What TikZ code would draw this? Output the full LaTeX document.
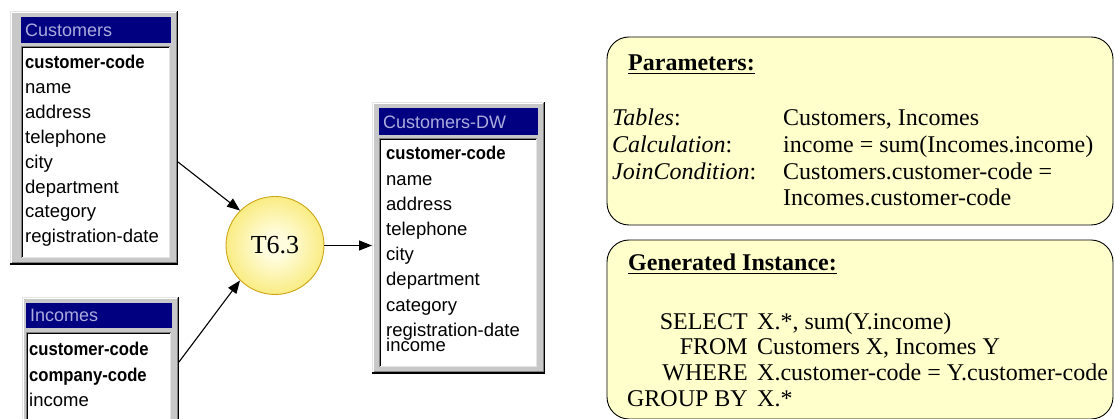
\documentclass[tikz,border=0pt]{standalone}
\usepackage{fontspec}
\setmainfont{Liberation Serif}
\newfontfamily\winfont{Liberation Sans}
\usetikzlibrary{arrows.meta}

\definecolor{winnavy}{RGB}{0,0,128}
\definecolor{wintitle}{RGB}{172,172,222}
\definecolor{winface}{RGB}{200,200,200}
\definecolor{winlight}{RGB}{228,228,228}
\definecolor{winshadow}{RGB}{128,128,128}
\definecolor{notefill}{RGB}{255,255,204}
\definecolor{ballin}{RGB}{255,253,222}
\definecolor{ballout}{RGB}{246,224,70}
\definecolor{balledge}{RGB}{205,165,20}

\pgfdeclareradialshading{sunball}{\pgfpoint{0bp}{0bp}}{%
  color(0bp)=(ballin); color(6bp)=(ballin); color(38bp)=(ballout); color(50bp)=(ballout)}

\tikzset{
  winbody/.style={rectangle, fill=winface, draw=none, inner sep=0pt, outer sep=0pt},
  notebox/.style={rectangle, rounded corners=22pt, draw=black, line width=0.9pt,
    fill=notefill, inner sep=0pt, outer sep=0pt},
  proc/.style={circle, minimum size=98pt, inner sep=0pt, draw=balledge, line width=0.9pt,
    shading=sunball, font=\fontsize{26}{26}\selectfont},
  flow/.style={line width=1.1pt, -{Triangle[length=13pt,width=10pt]}},
  field/.style={anchor=base west, inner sep=0pt, font=\winfont\fontsize{18.5}{18.5}\selectfont},
  keyfield/.style={field, font=\winfont\bfseries\fontsize{18.5}{18.5}\selectfont},
  wtitle/.style={anchor=base west, inner sep=0pt, text=wintitle,
    font=\winfont\fontsize{18}{18}\selectfont},
  ptext/.style={anchor=base west, inner sep=0pt, font=\fontsize{24}{24}\selectfont},
  kw/.style={anchor=base east, inner sep=0pt, font=\fontsize{24}{24}\selectfont},
}

% condensed bold key column
\newcommand\keyname[1]{\scalebox{0.9}[1]{#1}}

% a table window: name, x1, y1, x2, y2, left inset, title bar bottom, list top, title
\newcommand\dbwin[9]{%
  \node[winbody, anchor=north west, minimum width={#4-#2}, minimum height={#5-#3}] (#1) at (#2,#3) {};
  \draw[winlight, line width=1pt] ({#2+0.5},{#5-1}) -- ({#2+0.5},{#3+0.5}) -- ({#4-1},{#3+0.5});
  \draw[white, line width=1pt] ({#2+1.5},{#5-2}) -- ({#2+1.5},{#3+1.5}) -- ({#4-2},{#3+1.5});
  \draw[black, line width=1.5pt] ({#2},{#5-0.75}) -- ({#4-0.75},{#5-0.75}) -- ({#4-0.75},{#3});
  \draw[winshadow, line width=1pt] ({#2+1.5},{#5-2}) -- ({#4-2},{#5-2}) -- ({#4-2},{#3+1.5});
  \fill[winnavy] ({#2+#6},{#3+6}) rectangle ({#4-7},{#7});
  \node[wtitle] at ({#2+#6+4},{#7-6}) {#9};
  \fill[white] ({#2+#6},{#8}) rectangle ({#4-8},{#5-7});
  \draw[winshadow, line width=1pt] ({#2+#6+0.5},{#5-7}) -- ({#2+#6+0.5},{#8+0.5}) -- ({#4-8},{#8+0.5});
  \draw[black, line width=1pt] ({#2+#6+1.5},{#5-8}) -- ({#2+#6+1.5},{#8+1.5}) -- ({#4-9},{#8+1.5});
  \draw[winlight, line width=1pt] ({#2+#6+1},{#5-7.5}) -- ({#4-8.5},{#5-7.5}) -- ({#4-8.5},{#8+1});
}

\begin{document}
\begin{tikzpicture}[x=1pt, y=-1pt]
\useasboundingbox (0,0) rectangle (1114,419);
\clip (0,0) rectangle (1114,419);

% source table Customers
\dbwin{cust}{10}{11}{178}{265}{11}{43}{46}{Customers}
\node[keyfield] (c0) at (25,69) {\keyname{customer-code}};
\node[field] (c1) at (25,94) {name};
\node[field] (c2) at (25,118.8) {address};
\node[field] (c3) at (25,143.6) {telephone};
\node[field] (c4) at (25,168.4) {city};
\node[field] (c5) at (25,193.2) {department};
\node[field] (c6) at (25,218) {category};
\node[field] (c7) at (25,242.8) {registration-date};

% source table Incomes
\dbwin{inc}{22}{297}{179}{450}{4}{328}{332}{Incomes}
\node[keyfield] (i0) at (29,356) {\keyname{customer-code}};
\node[keyfield] (i1) at (29,382) {\keyname{company-code}};
\node[field] (i2) at (29,407) {income};

% target table Customers-DW
\dbwin{dw}{372}{102}{545}{374}{7}{135}{138}{Customers-DW}
\node[keyfield] (d0) at (386,160) {\keyname{customer-code}};
\node[field] (d1) at (386,185.2) {name};
\node[field] (d2) at (386,210.4) {address};
\node[field] (d3) at (386,235.6) {telephone};
\node[field] (d4) at (386,260.8) {city};
\node[field] (d5) at (386,286) {department};
\node[field] (d6) at (386,311.2) {category};
\node[field] (d7) at (386,336.4) {registration-date};
\node[field] (d8) at (386,352) {income};

% transformation
\node[proc] (t63) at (275,245.5) {T6.3};
\coordinate (custout) at (178,162);
\coordinate (incout) at (179,362);
\draw[flow] (custout) -- (t63.135);
\draw[flow] (incout) -- (t63.225);
\draw[flow] (t63.east) -- (t63.east -| dw.west);

% parameter note
\node[notebox, anchor=north west, minimum width=506pt, minimum height=188pt] (params) at (607,37) {};
\node[ptext] (ph) at (628,71) {\underline{\textbf{Parameters:}}};
\node[ptext] (pl1) at (612,126) {\textit{Tables}:};
\node[ptext] (pl2) at (612,153) {\textit{Calculation}:};
\node[ptext] (pl3) at (612,180) {\textit{JoinCondition}:};
\node[ptext] (pv1) at (783,126) {Customers, Incomes};
\node[ptext] (pv2) at (783,153) {income = sum(Incomes.income)};
\node[ptext] (pv3) at (783,180) {Customers.customer-code =};
\node[ptext] (pv4) at (783,206) {Incomes.customer-code};

% generated instance note
\node[notebox, anchor=north west, minimum width=506pt, minimum height=179pt] (inst) at (607,240) {};
\node[ptext] (gh) at (628,271) {\underline{\textbf{Generated Instance:}}};
\node[kw] (k1) at (748,330) {SELECT};
\node[kw] (k2) at (748,355) {FROM};
\node[kw] (k3) at (748,381) {WHERE};
\node[kw] (k4) at (748,407) {GROUP BY};
\node[ptext] (v1) at (757,330) {X.*, sum(Y.income)};
\node[ptext] (v2) at (757,355) {Customers X, Incomes Y};
\node[ptext] (v3) at (757,381) {X.customer-code = Y.customer-code};
\node[ptext] (v4) at (757,407) {X.*};
\end{tikzpicture}
\end{document}
